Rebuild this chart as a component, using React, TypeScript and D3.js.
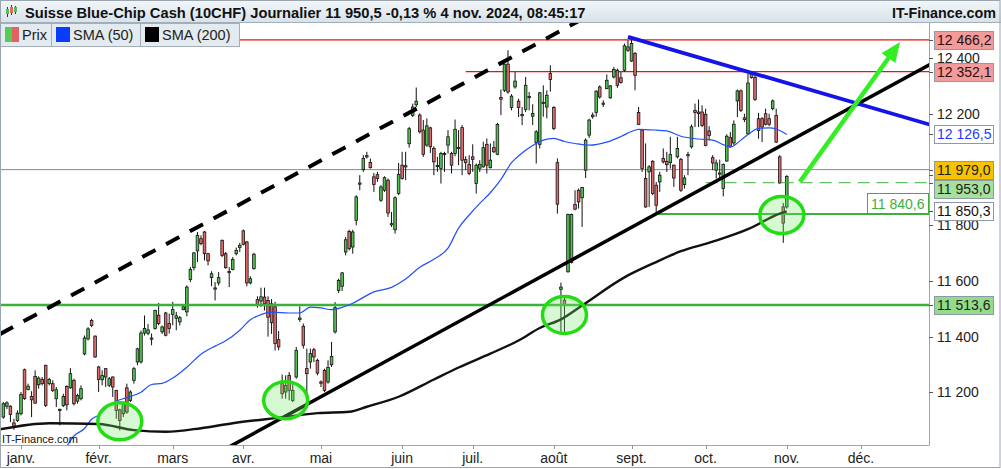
import React from "react";
import * as d3 from "d3";

// ---------- DATA ----------
// Daily candles, trading-day index -5 (21 déc. 2023) .. 217 (1 nov. 2024)
const firstCandleIndex = -5;
const opens = [
  11111, 11150, 11150, 11090, 11099, 11123, 11281, 11210, 11185, 11257,
  11227, 11246, 11297, 11231, 11231, 11177, 11135, 11153, 11221, 11216,
  11243, 11168, 11177, 11338, 11392, 11458, 11402, 11291, 11245, 11285,
  11225, 11255, 11207, 11137, 11123, 11216, 11171, 11243, 11309, 11309,
  11413, 11412, 11391, 11429, 11477, 11417, 11485, 11447, 11480, 11466,
  11453, 11497, 11489, 11605, 11648, 11708, 11752, 11776, 11698, 11612,
  11571, 11593, 11746, 11698, 11630, 11641, 11698, 11720, 11780, 11740,
  11593, 11644, 11533, 11528, 11542, 11530, 11518, 11507, 11389, 11231,
  11201, 11261, 11171, 11255, 11462, 11437, 11285, 11309, 11353, 11315,
  11237, 11279, 11237, 11299, 11417, 11566, 11581, 11704, 11778, 11722,
  11818, 11948, 12000, 12046, 12026, 11974, 11982, 11890, 11926, 11962,
  11802, 11784, 11914, 12016, 12010, 12093, 12195, 12233, 12196, 12142,
  12088, 12150, 12076, 12011, 12004, 12054, 12088, 12058, 12058, 12076,
  12151, 12036, 12019, 12046, 11950, 12005, 12010, 12091, 12007, 12079,
  12055, 12259, 12285, 12379, 12223, 12297, 12246, 12194, 12216, 12259,
  12192, 12097, 12091, 12242, 12225, 12345, 12223, 12025, 11570, 11531,
  11633, 11666, 11875, 11926, 11899, 11998, 12124, 12196, 12205, 12297,
  12235, 12291, 12258, 12333, 12357, 12330, 12357, 12441, 12390, 12417,
  12205, 12142, 11968, 11992, 12030, 11944, 11956, 12040, 12030, 12025,
  12016, 12046, 12037, 11946, 12050, 12082, 12213, 12207, 12207, 12199,
  12139, 12043, 11998, 11988, 11932, 12031, 12115, 12096, 12247, 12283,
  12186, 12129, 12343, 12331, 12183, 12183, 12201, 12183, 12219, 12195,
  12046, 11866, 11866,
];
const highs = [
  11165, 11168, 11153, 11105, 11135, 11201, 11285, 11231, 11204, 11279,
  11257, 11255, 11299, 11252, 11243, 11219, 11141, 11195, 11225, 11287,
  11249, 11195, 11225, 11404, 11434, 11464, 11404, 11295, 11279, 11287,
  11255, 11257, 11209, 11141, 11165, 11231, 11207, 11291, 11360, 11422,
  11476, 11445, 11411, 11497, 11521, 11440, 11489, 11483, 11525, 11489,
  11474, 11513, 11584, 11650, 11704, 11776, 11764, 11780, 11701, 11635,
  11596, 11632, 11749, 11704, 11650, 11686, 11720, 11737, 11785, 11744,
  11617, 11701, 11545, 11576, 11576, 11545, 11535, 11525, 11420, 11264,
  11261, 11273, 11231, 11363, 11509, 11447, 11357, 11357, 11360, 11321,
  11243, 11285, 11315, 11381, 11524, 11608, 11632, 11758, 11784, 11784,
  11908, 11980, 12052, 12064, 12040, 11988, 11992, 11944, 11976, 11968,
  11848, 11904, 12024, 12064, 12064, 12153, 12237, 12295, 12202, 12178,
  12184, 12154, 12084, 12046, 12064, 12064, 12142, 12064, 12180, 12142,
  12160, 12048, 12052, 12091, 12022, 12034, 12100, 12112, 12094, 12103,
  12168, 12288, 12381, 12429, 12271, 12351, 12255, 12225, 12333, 12279,
  12235, 12142, 12279, 12303, 12285, 12375, 12228, 12040, 11594, 11539,
  11842, 11842, 11926, 11932, 11938, 12112, 12183, 12205, 12285, 12303,
  12249, 12342, 12303, 12369, 12363, 12351, 12453, 12465, 12466, 12423,
  12225, 12145, 12094, 12016, 12034, 11956, 11992, 12076, 12064, 12118,
  12018, 12118, 12042, 11980, 12064, 12162, 12237, 12252, 12231, 12219,
  12156, 12052, 12036, 12036, 12022, 12127, 12135, 12177, 12288, 12288,
  12201, 12345, 12352, 12339, 12204, 12189, 12219, 12201, 12252, 12219,
  12052, 11880, 11980,
];
const lows = [
  11105, 11140, 11093, 11065, 11093, 11117, 11173, 11207, 11111, 11159,
  11213, 11225, 11147, 11225, 11201, 11147, 11081, 11147, 11135, 11213,
  11153, 11159, 11171, 11333, 11386, 11434, 11324, 11201, 11225, 11219,
  11219, 11183, 11105, 11063, 11111, 11123, 11165, 11231, 11297, 11303,
  11404, 11405, 11369, 11425, 11441, 11410, 11401, 11411, 11441, 11423,
  11440, 11495, 11473, 11596, 11638, 11668, 11728, 11674, 11656, 11581,
  11530, 11584, 11686, 11644, 11578, 11638, 11692, 11704, 11728, 11581,
  11588, 11641, 11504, 11507, 11494, 11400, 11410, 11350, 11351, 11177,
  11177, 11171, 11165, 11249, 11453, 11357, 11177, 11285, 11309, 11261,
  11219, 11201, 11231, 11291, 11411, 11557, 11564, 11692, 11710, 11698,
  11800, 11926, 11992, 12040, 12004, 11920, 11956, 11884, 11920, 11830,
  11794, 11770, 11908, 11964, 11962, 12079, 12189, 12225, 12130, 12046,
  12082, 12060, 11980, 11992, 11950, 11992, 12058, 11986, 12048, 12016,
  11980, 11998, 11980, 11992, 11914, 11992, 12007, 11986, 12004, 12060,
  12052, 12196, 12279, 12273, 12213, 12291, 12189, 12160, 12207, 12213,
  12160, 12022, 12076, 12190, 12184, 12280, 12142, 11842, 11417, 11417,
  11630, 11663, 11854, 11860, 11794, 11970, 12114, 12183, 12190, 12255,
  12225, 12289, 12255, 12327, 12294, 12309, 12351, 12423, 12387, 12285,
  12160, 11992, 11863, 11866, 11908, 11841, 11920, 12022, 11992, 12004,
  11938, 12040, 11920, 11932, 11980, 12076, 12153, 12153, 12153, 12084,
  12105, 11998, 11968, 11964, 11904, 12028, 12079, 12088, 12189, 12207,
  12171, 12127, 12327, 12247, 12111, 12099, 12159, 12156, 12213, 12096,
  11950, 11737, 11860,
];
const closes = [
  11159, 11162, 11120, 11078, 11125, 11192, 11177, 11222, 11173, 11161,
  11251, 11231, 11153, 11246, 11207, 11209, 11139, 11185, 11155, 11267,
  11159, 11189, 11213, 11395, 11428, 11440, 11327, 11246, 11260, 11255,
  11249, 11219, 11135, 11099, 11159, 11129, 11201, 11285, 11356, 11413,
  11429, 11424, 11395, 11494, 11447, 11435, 11405, 11429, 11497, 11475,
  11468, 11507, 11578, 11641, 11701, 11764, 11734, 11698, 11672, 11626,
  11575, 11612, 11692, 11648, 11634, 11677, 11710, 11728, 11732, 11593,
  11608, 11696, 11516, 11543, 11518, 11470, 11450, 11375, 11363, 11195,
  11225, 11207, 11207, 11351, 11467, 11369, 11267, 11339, 11327, 11269,
  11233, 11207, 11289, 11329, 11504, 11602, 11629, 11748, 11716, 11776,
  11902, 11952, 12040, 12050, 12007, 11947, 11968, 11938, 11971, 11844,
  11806, 11899, 11983, 11968, 12014, 12147, 12225, 12246, 12136, 12055,
  12157, 12082, 12028, 12015, 12058, 12058, 12118, 12016, 12145, 12080,
  12034, 12025, 11986, 12037, 12016, 12019, 12079, 12016, 12034, 12064,
  12162, 12253, 12379, 12279, 12264, 12318, 12223, 12198, 12303, 12263,
  12202, 12136, 12276, 12238, 12267, 12324, 12148, 11876, 11578, 11515,
  11839, 11839, 11858, 11884, 11936, 12106, 12178, 12190, 12282, 12261,
  12239, 12321, 12301, 12360, 12303, 12313, 12445, 12429, 12453, 12339,
  12162, 12004, 11866, 12010, 11914, 11872, 11980, 12028, 12018, 12054,
  11970, 12076, 11926, 11970, 12054, 12154, 12205, 12201, 12159, 12087,
  12123, 12024, 12024, 11984, 12019, 12120, 12084, 12163, 12283, 12213,
  12180, 12311, 12331, 12252, 12141, 12153, 12163, 12163, 12247, 12099,
  11952, 11808, 11975,
];

// SMA (50), read at trading-day indices
const sma50Index = [
  12, 15, 18, 20, 22, 25, 27, 30, 34, 37, 40, 43, 47, 51, 55, 58, 62, 65, 67, 71,
  76, 79, 82, 85, 88, 91, 94, 100, 105, 109, 113, 117, 121, 124, 127, 130, 133, 136, 139, 142,
  145, 148, 151, 154, 157, 161, 166, 170, 173, 175, 180, 183, 187, 192, 196, 199, 201, 204, 206, 209,
  212, 214, 217,
];
const sma50Values = [
  10985, 11043, 11070, 11103, 11118, 11153, 11168, 11181, 11200, 11228, 11232, 11251, 11290, 11337, 11366, 11385, 11423, 11461, 11474, 11488,
  11485, 11485, 11506, 11503, 11497, 11505, 11520, 11561, 11577, 11607, 11649, 11678, 11718, 11790, 11837, 11879, 11917, 11965, 12025, 12060,
  12087, 12106, 12112, 12101, 12094, 12088, 12099, 12119, 12137, 12145, 12142, 12139, 12120, 12110, 12106, 12090, 12081, 12106, 12126, 12148,
  12150, 12146, 12126,
];
// SMA (200), read at trading-day indices
const sma200Index = [-6, 8, 22, 32, 41, 51, 60, 74, 84, 93, 98, 107, 117, 124, 133, 141, 147, 153, 159, 171, 180, 187, 196, 206, 215, 217];
const sma200Values = [11067, 11089, 11086, 11064, 11058, 11071, 11089, 11110, 11125, 11130, 11148, 11184, 11246, 11289, 11339, 11386, 11431, 11462, 11512, 11613, 11668, 11707, 11741, 11786, 11842, 11850];

const monthLabels = ["janv.", "févr.", "mars", "avr.", "mai", "juin", "juil.", "août", "sept.", "oct.", "nov.", "déc."];
const marketHolidays = ["2023-12-25", "2023-12-26", "2024-01-01", "2024-03-29"];
const priceTicks = [11200, 11400, 11600, 11800, 12000, 12200, 12400];

// horizontal levels
const redLevels = [12466.2, 12352.1];
const redLevelsFrom = [-6, 126];
const greyLevel = 12000;
const greenLevels = [11513.6, 11840.6];
const greenLevelsFrom = [-6, 180];
const lastPrice = 11953.0;
const lastPriceFrom = 194;
const lowLabelValue = 11840.6;

// price boxes on the right axis
const axisBoxValues = [12466.2, 12352.1, 12126.5, 11979.0, 11953.0, 11850.3, 11513.6];

// drawn trend lines [index, price]
const channelTop: [number, number][] = [[-6, 11409], [170, 12616]];
const supportLine: [number, number][] = [[58, 10997], [258, 12381]];
const resistanceLine: [number, number][] = [[172, 12477], [258, 12160]];
const arrowLine: [number, number][] = [[220.7, 11956], [249.1, 12459]];
const circledPoints: [number, number][] = [[28, 11096], [75, 11171], [154, 11478], [215.6, 11837]];

// ---------- STYLES ----------
const boxStyles = [
  { bg: "#f39a9a", fg: "#2a1010" },
  { bg: "#f39a9a", fg: "#2a1010" },
  { bg: "#ffffff", fg: "#1a3cff" },
  { bg: "#f7c300", fg: "#222" },
  { bg: "#a6e09d", fg: "#222" },
  { bg: "#ffffff", fg: "#111" },
  { bg: "#93dc8a", fg: "#222" },
];
const FONT = "'Liberation Sans', Arial, Helvetica, sans-serif";
const W = 1001;
const H = 469;
const PL = 0, PR = 929, PT = 23, PB = 445;

function tradingDays(): Date[] {
  const out: Date[] = [];
  const hol = new Set(marketHolidays);
  const d = new Date(Date.UTC(2023, 11, 21));
  const end = Date.UTC(2024, 11, 31);
  while (d.getTime() <= end) {
    const wd = d.getUTCDay();
    const key = d.toISOString().slice(0, 10);
    if (wd !== 0 && wd !== 6 && !hol.has(key)) out.push(new Date(d.getTime()));
    d.setUTCDate(d.getUTCDate() + 1);
  }
  return out;
}

export default function App() {
  const x = d3.scaleLinear().domain([-5.95, 257.3]).range([PL, PR]);
  const y = d3.scaleLinear().domain([11200, 12400]).range([392.3, 58.3]);
  const fr = d3.formatLocale({ decimal: ",", thousands: " ", grouping: [3], currency: ["", ""] });
  const fmt1 = fr.format(",.1f");
  const fmt0 = fr.format(",.0f");

  const days = tradingDays();
  const monthTicks = monthLabels.map((lab, m) => {
    const pos = days.findIndex((d) => d.getUTCFullYear() === 2024 && d.getUTCMonth() === m);
    return { lab, idx: pos + firstCandleIndex };
  });

  const candles = opens.map((o, i) => ({
    idx: i + firstCandleIndex,
    o,
    h: highs[i],
    l: lows[i],
    c: closes[i],
  }));

  const lineGen = d3
    .line<[number, number]>()
    .x((d) => x(d[0]))
    .y((d) => y(d[1]))
    .curve(d3.curveMonotoneX);
  const sma50Path = lineGen(sma50Index.map((v, i) => [v, sma50Values[i]] as [number, number])) || "";
  const sma200Path = lineGen(sma200Index.map((v, i) => [v, sma200Values[i]] as [number, number])) || "";
  const straight = d3
    .line<[number, number]>()
    .x((d) => x(d[0]))
    .y((d) => y(d[1]));

  // right-axis boxes with collision avoidance
  const boxH = 18;
  const boxes = axisBoxValues
    .map((v, i) => ({ v, i, ty: y(v), cy: y(v) }))
    .sort((a, b) => a.ty - b.ty);
  for (let iter = 0; iter < 20; iter++) {
    let moved = false;
    for (let k = 1; k < boxes.length; k++) {
      const a = boxes[k - 1], b = boxes[k];
      const gap = b.cy - a.cy;
      if (gap < boxH + 1) {
        const push = (boxH + 1 - gap) / 2;
        a.cy -= push;
        b.cy += push;
        moved = true;
      }
    }
    if (!moved) break;
  }
  // a tick label is hidden when a price box covers its centre
  const tickHidden = (v: number) => boxes.some((b) => Math.abs(b.cy - y(v)) < 4);

  // arrow geometry
  const ax0 = x(arrowLine[0][0]), ay0 = y(arrowLine[0][1]);
  const ax1 = x(arrowLine[1][0]), ay1 = y(arrowLine[1][1]);
  const alen = Math.hypot(ax1 - ax0, ay1 - ay0);
  const ux = (ax1 - ax0) / alen, uy = (ay1 - ay0) / alen;
  const headL = 20, headW = 8.5;
  const bx = ax1 - ux * headL, by = ay1 - uy * headL;
  const headPts = `${ax1},${ay1} ${bx - uy * headW},${by + ux * headW} ${bx + uy * headW},${by - ux * headW}`;

  const lowY = y(lowLabelValue);

  return (
    <div style={{ position: "absolute", left: 0, top: 0, width: W, height: H, background: "#fff" }}>
      <svg width={W} height={H} style={{ display: "block" }} fontFamily={FONT}>
        <defs>
          <clipPath id="plotClip">
            <rect x={PL} y={PT} width={PR - PL} height={PB - PT} />
          </clipPath>
          <linearGradient id="hdr" x1="0" y1="0" x2="0" y2="1">
            <stop offset="0" stopColor="#f3f7fa" />
            <stop offset="1" stopColor="#d8e2ea" />
          </linearGradient>
        </defs>
        <rect x={0} y={0} width={W} height={H} fill="#fff" />

        <g clipPath="url(#plotClip)">
          {/* horizontal levels */}
          <line x1={x(-6)} x2={PR} y1={y(greyLevel)} y2={y(greyLevel)} stroke="#8a8a8a" strokeWidth={1} />
          {redLevels.map((v, i) => (
            <line key={"r" + i} x1={x(redLevelsFrom[i])} x2={PR} y1={y(v)} y2={y(v)} stroke="#ee1111" strokeWidth={1.2} />
          ))}

          {/* candles */}
          {candles.map((d) => {
            const cx = x(d.idx);
            const up = d.c >= d.o;
            const top = y(Math.max(d.o, d.c));
            const bot = y(Math.min(d.o, d.c));
            const bh = Math.max(bot - top, 1.2);
            return (
              <g key={d.idx}>
                <line x1={cx} x2={cx} y1={y(d.h)} y2={y(d.l)} stroke="#111" strokeWidth={1} />
                <rect
                  x={cx - 1.3}
                  y={top}
                  width={2.6}
                  height={bh}
                  fill={up ? "#4ec34e" : "#e2686a"}
                  stroke="#151515"
                  strokeWidth={0.8}
                />
              </g>
            );
          })}

          {greenLevels.map((v, i) => (
            <line key={"g" + i} x1={x(greenLevelsFrom[i])} x2={PR} y1={y(v)} y2={y(v)} stroke="#3bb03b" strokeWidth={i === 0 ? 2.4 : 2} />
          ))}
          <line x1={x(lastPriceFrom)} x2={PR} y1={y(lastPrice)} y2={y(lastPrice)} stroke="#3bb03b" strokeWidth={1} strokeDasharray="12 7" />

          {/* moving averages */}
          <path d={sma50Path} fill="none" stroke="#2050ff" strokeWidth={1.2} />
          <path d={sma200Path} fill="none" stroke="#111" strokeWidth={2.4} />

          {/* trend lines */}
          <path d={straight(channelTop) || ""} fill="none" stroke="#000" strokeWidth={4} strokeDasharray="15 12" />
          <path d={straight(supportLine) || ""} fill="none" stroke="#000" strokeWidth={3.5} />
          <path d={straight(resistanceLine) || ""} fill="none" stroke="#1414e6" strokeWidth={3.8} />

          {/* circles */}
          {circledPoints.map((p, i) => (
            <ellipse key={"c" + i} cx={x(p[0])} cy={y(p[1])} rx={22} ry={18.5} fill="rgba(120,235,110,0.3)" stroke="#22dd11" strokeWidth={3.5} />
          ))}

          {/* arrow */}
          <line x1={ax0} y1={ay0} x2={ax1 - ux * 14} y2={ay1 - uy * 14} stroke="#33ee22" strokeWidth={4.5} />
          <polygon points={headPts} fill="#33ee22" />

          {/* low label inside plot */}
          <rect x={867.5} y={lowY - 20.5} width={61} height={20} fill="#fff" stroke="#3bb03b" strokeWidth={1} />
          <text x={871} y={lowY - 5} fontSize={14} fill="#3bb03b">
            {fmt1(lowLabelValue)}
          </text>

          <text x={2} y={443} fontSize={11} fill="#111">
            IT-Finance.com
          </text>
        </g>

        {/* axes frame */}
        <line x1={PR + 0.5} x2={PR + 0.5} y1={PT} y2={PB} stroke="#9aa6b0" strokeWidth={1} />
        <line x1={0} x2={PR + 0.5} y1={PB + 0.5} y2={PB + 0.5} stroke="#9aa6b0" strokeWidth={1} />

        {/* y ticks */}
        {priceTicks.map((v) => (
          <g key={v}>
            <line x1={PR} x2={PR + 4} y1={Math.round(y(v)) + 0.5} y2={Math.round(y(v)) + 0.5} stroke="#555" />
            {!tickHidden(v) && (
              <text x={937} y={y(v) + 5} fontSize={14} fill="#222">
                {fmt0(v)}
              </text>
            )}
          </g>
        ))}

        {/* price boxes */}
        {boxes.map((b) => {
          const st = boxStyles[b.i];
          return (
            <g key={"b" + b.i}>
              <line x1={PR} x2={PR + 4} y1={Math.round(b.ty) + 0.5} y2={Math.round(b.ty) + 0.5} stroke="#555" />
              <rect x={934.5} y={Math.round(b.cy - boxH / 2) + 0.5} width={59} height={boxH} fill={st.bg} stroke="#8d9aa5" strokeWidth={1} />
              <text x={937} y={b.cy + 5} fontSize={14} fill={st.fg}>
                {fmt1(b.v)}
              </text>
            </g>
          );
        })}

        {/* x ticks */}
        {monthTicks.map((t) => (
          <g key={t.lab}>
            <line x1={Math.round(x(t.idx)) + 0.5} x2={Math.round(x(t.idx)) + 0.5} y1={PB} y2={PB + 4} stroke="#8a96a0" />
            <text x={x(t.idx)} y={463} fontSize={14} fill="#222" textAnchor="middle">
              {t.lab}
            </text>
          </g>
        ))}

        {/* header */}
        <rect x={0} y={0} width={W} height={22} fill="url(#hdr)" />
        <line x1={0} x2={W} y1={22.5} y2={22.5} stroke="#a2aeb8" />
        <g>
          <line x1={7.5} x2={7.5} y1={7} y2={17} stroke="#333" />
          <rect x={6} y={9} width={3} height={5} fill="#4ec34e" />
          <line x1={11.5} x2={11.5} y1={5} y2={15} stroke="#333" />
          <rect x={10} y={7} width={3} height={6} fill="#e2686a" />
          <line x1={15.5} x2={15.5} y1={6} y2={14} stroke="#333" />
          <rect x={14} y={7} width={3} height={5} fill="#4ec34e" />
        </g>
        <text x={25} y={18} fontSize={14.7} fontWeight="bold" fill="#111">
          Suisse Blue-Chip Cash (10CHF) Journalier 11 950,5 -0,13 % 4 nov. 2024, 08:45:17
        </text>
        <text x={996} y={18} fontSize={14.3} fontWeight="bold" fill="#111" textAnchor="end">
          IT-Finance.com
        </text>

        {/* legend */}
        <g>
          <rect x={0.5} y={23.5} width={51} height={23} fill="#e3eaf0" stroke="#a3aeb7" />
          <rect x={5} y={27} width={7} height={15} fill="#55cc55" />
          <rect x={12} y={27} width={7} height={15} fill="#e06262" />
          <text x={22} y={39.5} fontSize={14.5} fill="#222">Prix</text>

          <rect x={51.5} y={23.5} width={89} height={23} fill="#e3eaf0" stroke="#a3aeb7" />
          <rect x={56} y={27} width={14} height={15} fill="#0a3cff" />
          <text x={73} y={39.5} fontSize={14.5} fill="#222">SMA (50)</text>

          <rect x={140.5} y={23.5} width={99} height={23} fill="#e3eaf0" stroke="#a3aeb7" />
          <rect x={145} y={27} width={14} height={15} fill="#000" />
          <text x={162} y={39.5} fontSize={14.5} fill="#222">SMA (200)</text>
        </g>

        {/* outer frame */}
        <rect x={0.5} y={0.5} width={W - 1.5} height={467} fill="none" stroke="#9aa6b0" />
      </svg>
    </div>
  );
}
